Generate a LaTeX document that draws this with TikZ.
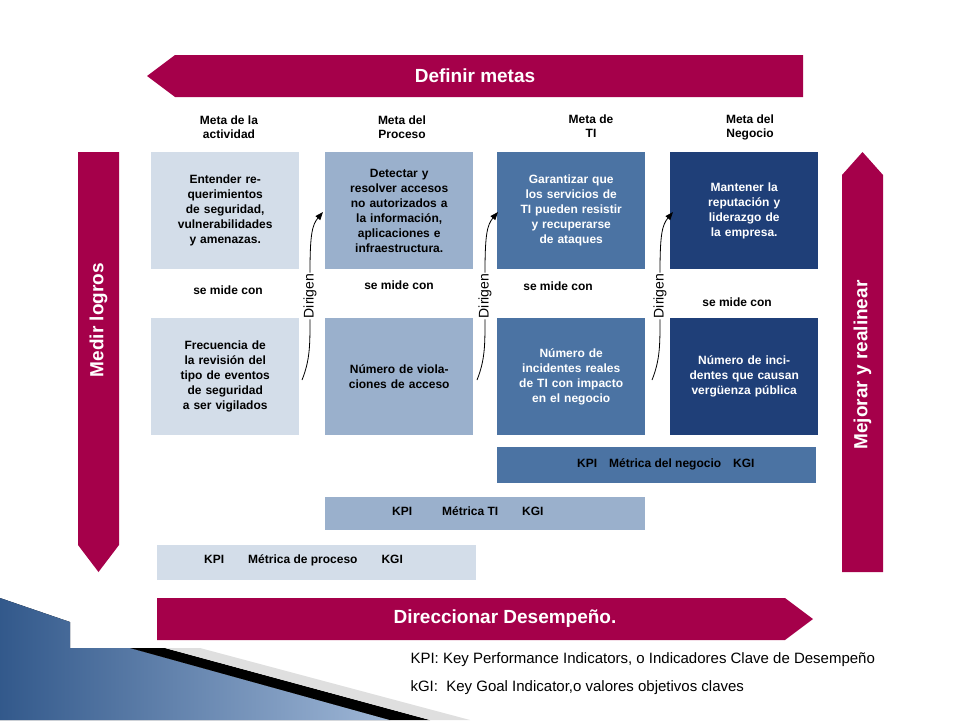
\documentclass[tikz,border=0pt]{standalone}
\usepackage{fontspec}
\setmainfont{Liberation Sans}
\usetikzlibrary{arrows.meta}
\definecolor{crim}{HTML}{A5004A}
\definecolor{b1}{HTML}{D3DDE9}
\definecolor{b2}{HTML}{9AB0CC}
\definecolor{b3}{HTML}{4B73A3}
\definecolor{b4}{HTML}{1F3F78}
\definecolor{bl}{HTML}{3F6FAE}
\begin{document}
\begin{tikzpicture}[x=1pt,y=-1pt,
 box/.style={anchor=north west,inner sep=0pt,minimum width=148pt,minimum height=117pt,text width=110pt,align=center,font=\bfseries\fontsize{12}{15}\selectfont},
 lbl/.style={font=\bfseries\fontsize{12}{14}\selectfont,align=center},
 bar/.style={anchor=north west,inner sep=0pt,font=\bfseries\fontsize{12}{14}\selectfont},
 dir/.style={-{Triangle[length=8pt,width=6pt]},thick},
 big/.style={text=white,font=\bfseries\fontsize{19}{22}\selectfont}]
\useasboundingbox (0,0) rectangle (960,720);
% decoration
\fill[left color=bl!80!black,right color=bl!50!white] (0,598)--(70,622)--(70,648)--(130,648)--(390,720)--(0,720)--cycle;
\fill[black] (130,648)--(165,648)--(430,720)--(390,720)--cycle;
\fill[gray!25] (165,648)--(200,648)--(470,720)--(430,720)--cycle;
% big arrows
\fill[crim] (147,76)--(175,55)--(803,55)--(803,97)--(175,97)--cycle;
\node[big] (tdef) at (475,76) {Definir metas};
\fill[crim] (157,598)--(785,598)--(813,619)--(785,640)--(157,640)--cycle;
\node[big] (tdir) at (505,619) {Direccionar Desempeño.};
\fill[crim] (78,152)--(119,152)--(119,545)--(98.5,572)--(78,545)--cycle;
\node[big,rotate=90] (tmed) at (98.5,320) {Medir logros};
\fill[crim] (862.5,152)--(883,175)--(883,572)--(842,572)--(842,175)--cycle;
\node[big,rotate=90] (tmej) at (862.5,365) {Mejorar y realinear};
% headers
\node[lbl] (h1) at (229,127) {Meta de la\\actividad};
\node[lbl] (h2) at (402,127) {Meta del\\Proceso};
\node[lbl] (h3) at (591,126) {Meta de\\TI};
\node[lbl] (h4) at (750,127) {Meta del\\Negocio};
% boxes
\node[box,fill=b1] (a1) at (151,152) {Entender requerimientos de seguridad, vulnerabilidades y amenazas.};
\node[box,fill=b2,text width=105pt] (a2) at (325,152) {Detectar y resolver accesos no autorizados a la información, aplicaciones e infraestructura.};
\node[box,fill=b3,text=white] (a3) at (497,152) {Garantizar que los servicios de TI pueden resistir y recuperarse de ataques};
\node[box,fill=b4,text=white] (a4) at (670,152) {Mantener la reputación y liderazgo de la empresa.};
\node[box,fill=b1] (c1) at (151,318) {Frecuencia de la revisión del tipo de eventos de seguridad a ser vigilados};
\node[box,fill=b2] (c2) at (325,318) {Número de violaciones de acceso\\[30pt]};
\node[box,fill=b3,text=white] (c3) at (497,318) {Número de incidentes reales de TI con impacto en el negocio\\[20pt]};
\node[box,fill=b4,text=white] (c4) at (670,318) {Número de incidentes que causan vergüenza pública\\[20pt]};
\node[lbl] (m1) at (228,290) {se mide con};
\node[lbl] (m2) at (399,285) {se mide con};
\node[lbl] (m3) at (558,286) {se mide con};
\node[lbl] (m4) at (737,302) {se mide con};
% Dirigen
\foreach \x/\n in {310/d1,485/d2,660/d3}{
 \node[rotate=90,font=\fontsize{14}{16}\selectfont,fill=white,inner sep=1pt] (\n) at (\x,296) {Dirigen};
 \draw[thick] (\x-8,380) .. controls (\x,360) and (\x,345) .. (\n.west);
 \draw[dir] (\n.east) .. controls (\x,235) and (\x+2,225) .. (\x+13,212);
}
% bars
\fill[b3] (497,447) rectangle (816,483);
\node[bar] (k3) at (577,458) {KPI\quad Métrica del negocio\quad KGI};
\fill[b2] (325,497) rectangle (645,530);
\node[bar] (k2) at (392,506) {KPI\qquad\enspace Métrica TI\qquad KGI};
\fill[b1] (157,545) rectangle (476,580);
\node[bar] (k1) at (204,554) {KPI\qquad Métrica de proceso\qquad KGI};
% legend
\node[anchor=west,font=\fontsize{15}{17}\selectfont] (l1) at (407,660) {KPI: Key Performance Indicators, o Indicadores Clave de Desempeño};
\node[anchor=west,font=\fontsize{15}{17}\selectfont] (l2) at (407,688) {kGI:\ \ Key Goal Indicator,o valores objetivos claves};
\end{tikzpicture}
\end{document}
